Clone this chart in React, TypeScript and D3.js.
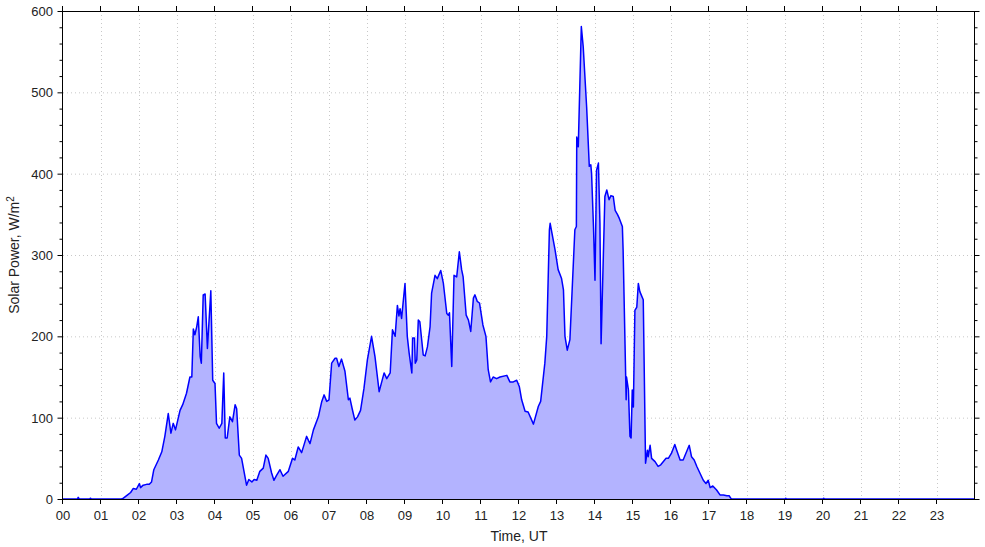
import * as d3 from 'd3'

// time in hours (UT) and solar power in W/m^2
const times = [
  0, 0.38, 0.4, 0.43, 0.7, 0.72, 0.75, 1.54,
  1.59, 1.7, 1.78, 1.85, 1.93, 2.01, 2.04, 2.11, 2.2, 2.27, 2.33, 2.39, 2.51, 2.6, 2.68, 2.77, 2.84, 2.9, 2.96,
  3.08, 3.15, 3.25, 3.34, 3.39, 3.43, 3.47, 3.52, 3.56, 3.61, 3.64, 3.69, 3.74, 3.8, 3.89, 3.94,
  4.0, 4.04, 4.11, 4.18, 4.23, 4.27, 4.32, 4.39, 4.46, 4.53, 4.57, 4.64, 4.7, 4.83, 4.89, 4.97,
  5.03, 5.1, 5.18, 5.27, 5.34, 5.4, 5.49, 5.55, 5.62, 5.71, 5.79, 5.93,
  6.04, 6.1, 6.19, 6.28, 6.41, 6.5, 6.59, 6.72, 6.81, 6.87, 6.94,
  7.0, 7.07, 7.16, 7.2, 7.26, 7.33, 7.42, 7.51, 7.55, 7.61, 7.68, 7.75, 7.83, 7.92,
  8.01, 8.12, 8.21, 8.32, 8.45, 8.52, 8.61, 8.67, 8.74, 8.8, 8.84, 8.87, 8.91,
  9.0, 9.06, 9.11, 9.18, 9.2, 9.25, 9.27, 9.31, 9.35, 9.39, 9.48, 9.53, 9.59, 9.66, 9.7, 9.79, 9.85, 9.94,
  10.01, 10.1, 10.14, 10.17, 10.23, 10.29, 10.36, 10.43, 10.49, 10.53, 10.61, 10.67, 10.73, 10.8, 10.84, 10.9, 10.96,
  11.05, 11.13, 11.19, 11.25, 11.32, 11.41, 11.5, 11.68, 11.76, 11.85, 11.94,
  12.01, 12.07, 12.16, 12.24, 12.38, 12.51, 12.57, 12.68, 12.73, 12.8, 12.82, 12.95,
  13.03, 13.12, 13.17, 13.21, 13.27, 13.34, 13.41, 13.47, 13.51, 13.52, 13.56, 13.64, 13.69, 13.78, 13.85, 13.89, 13.91, 13.96,
  14.0, 14.04, 14.09, 14.13, 14.16, 14.26, 14.31, 14.37, 14.42, 14.48, 14.53, 14.59, 14.64, 14.72, 14.74, 14.82, 14.83, 14.88, 14.92, 14.95, 14.98,
  15.01, 15.05, 15.1, 15.14, 15.18, 15.27, 15.33, 15.38, 15.4, 15.45, 15.49, 15.58, 15.66, 15.73, 15.8, 15.87, 15.93,
  16.01, 16.1, 16.15, 16.24, 16.32, 16.39, 16.48, 16.54, 16.61, 16.68, 16.76, 16.85, 16.92, 16.98,
  17.03, 17.1, 17.2, 17.29, 17.38, 17.47, 17.53, 17.57, 17.6,
  19.0, 19.02, 19.04, 20.0, 20.02, 20.04, 24,
]

const power = [
  0, 0, 2, 0, 0, 1, 0, 0,
  1, 5, 8, 13, 12, 19, 14, 17, 18, 18, 21, 36, 48, 58, 77, 105, 81, 93, 85,
  109, 116, 130, 150, 150, 209, 202, 212, 224, 175, 167, 251, 252, 185, 256, 146,
  142, 93, 87, 93, 155, 75, 75, 101, 95, 116, 111, 54, 50, 17, 24, 21,
  24, 23, 34, 38, 54, 50, 32, 23, 29, 36, 28, 34,
  50, 48, 64, 57, 77, 68, 85, 101, 120, 128, 120,
  122, 167, 173, 173, 163, 172, 157, 122, 124, 111, 97, 101, 109, 136,
  171, 200, 175, 132, 155, 148, 155, 208, 200, 238, 225, 234, 222,
  265, 200, 179, 155, 198, 198, 167, 171, 220, 218, 177, 176, 187, 212, 253, 275, 271, 281,
  265, 228, 226, 229, 163, 275, 273, 304, 282, 273, 226, 220, 206, 247, 251, 243, 241,
  214, 200, 159, 144, 150, 148, 150, 152, 144, 144, 146,
  138, 122, 108, 107, 92, 114, 120, 167, 200, 331, 339, 306,
  282, 271, 257, 200, 183, 196, 269, 331, 335, 445, 433, 581, 556, 482, 409, 411, 400, 335,
  269, 404, 413, 339, 191, 372, 380, 368, 373, 372, 355, 350, 345, 335, 306, 122, 150, 134, 77, 75, 134,
  113, 232, 236, 265, 255, 245, 44, 60, 52, 66, 50, 46, 40, 42, 46, 50, 50,
  56, 67, 60, 48, 48, 56, 66, 52, 48, 40, 32, 23, 19, 23,
  14, 16, 11, 5, 5, 4, 4, 1, 0,
  0, 1, 0, 0, 1, 0, 0,
]

const hourTicks = d3.range(0, 24)
const yMajor = [0, 100, 200, 300, 400, 500, 600]
const yMinor = d3.range(0, 601, 20)

const W = 985
const H = 547
const M = { left: 63, right: 975, top: 11, bottom: 499 }
const FONT = '"Liberation Sans", Arial, sans-serif'

export default function App() {
  const x = d3.scaleLinear().domain([0, 24]).range([M.left, M.right])
  const y = d3.scaleLinear().domain([0, 600]).range([M.bottom, M.top])
  const pts = times.map((t, i) => [t, power[i]] as [number, number])

  const area = d3.area<[number, number]>().x((d) => x(d[0])).y0(y(0)).y1((d) => y(d[1]))
  const line = d3.line<[number, number]>().x((d) => x(d[0])).y((d) => y(d[1]))

  return (
    <div style={{ position: 'fixed', left: 0, top: 0 }}>
      <svg width={W} height={H} style={{ display: 'block', fontFamily: FONT }}>
        <rect width={W} height={H} fill="#fff" />
        {/* grid */}
        {hourTicks.slice(1).map((h) => (
          <line key={'gx' + h} x1={x(h) + 0.5} x2={x(h) + 0.5} y1={M.top} y2={M.bottom} stroke="#c8c8c8" strokeDasharray="1,3" />
        ))}
        {yMajor.slice(1, -1).map((v) => (
          <line key={'gy' + v} x1={M.left} x2={M.right} y1={y(v) + 0.5} y2={y(v) + 0.5} stroke="#c8c8c8" strokeDasharray="1,3" />
        ))}

        <path d={area(pts) ?? ''} fill="#b3b3ff" />
        <path d={line(pts) ?? ''} fill="none" stroke="#0000ff" strokeWidth={1.5} strokeLinejoin="round" />

        {/* frame */}
        <rect x={M.left - 0.5} y={M.top + 0.5} width={M.right - M.left} height={M.bottom - M.top} fill="none" stroke="#000" />

        {/* x ticks */}
        {hourTicks.map((h) => (
          <g key={'xt' + h}>
            <line x1={x(h) - 0.5} x2={x(h) - 0.5} y1={M.bottom} y2={M.bottom + 5} stroke="#000" />
            <line x1={x(h) - 0.5} x2={x(h) - 0.5} y1={M.top} y2={M.top - 5} stroke="#000" />
            <text x={x(h)} y={M.bottom + 21} textAnchor="middle" fontSize={13} fill="#222">
              {String(h).padStart(2, '0')}
            </text>
          </g>
        ))}

        {/* y ticks */}
        {yMinor.map((v) => {
          const len = v % 100 === 0 ? 5 : 3
          return (
            <g key={'yt' + v}>
              <line x1={M.left - 0.5 - len} x2={M.left - 0.5} y1={y(v) + 0.5} y2={y(v) + 0.5} stroke="#000" />
              <line x1={M.right - 0.5} x2={M.right - 0.5 + len} y1={y(v) + 0.5} y2={y(v) + 0.5} stroke="#000" />
            </g>
          )
        })}
        {yMajor.map((v) => (
          <text key={'yl' + v} x={M.left - 10} y={y(v) + 5} textAnchor="end" fontSize={13} fill="#222">
            {v}
          </text>
        ))}

        <text x={(M.left + M.right) / 2} y={541} textAnchor="middle" fontSize={14} fill="#222">
          Time, UT
        </text>
        <text transform={`translate(19,${(M.top + M.bottom) / 2}) rotate(-90)`} textAnchor="middle" fontSize={14} fill="#222">
          Solar Power, W/m<tspan dy={-5} fontSize={10}>2</tspan>
        </text>
      </svg>
    </div>
  )
}
